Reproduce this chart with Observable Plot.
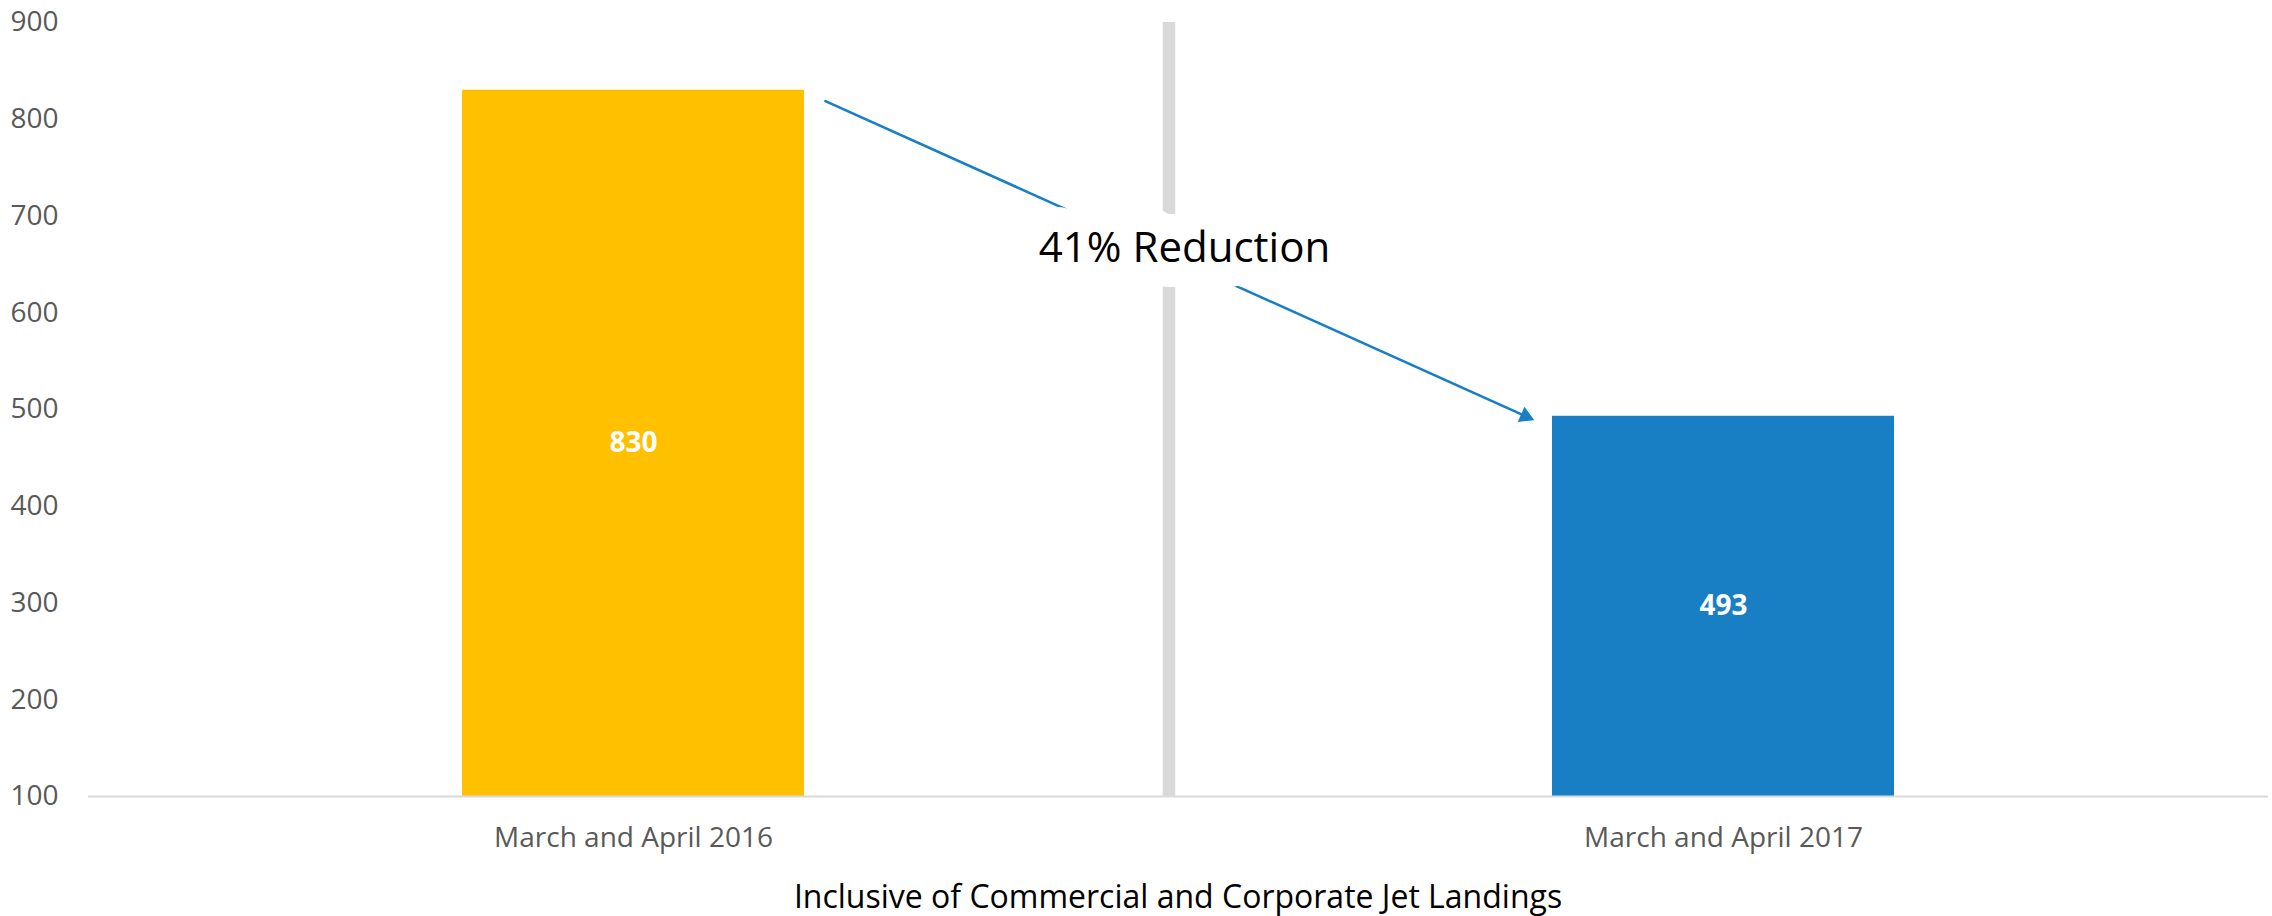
<!DOCTYPE html>
<html>
<head>
<meta charset="utf-8">
<script src="https://cdn.jsdelivr.net/npm/d3@7"></script>
<script src="https://cdn.jsdelivr.net/npm/@observablehq/plot@0.6"></script>
<style>
  body { margin: 0; background: #fff; font-family: "Open Sans", sans-serif; }
  #caption { margin-top: 16px; padding: 0 4px 0 88px; text-align: center; font-size: 32px; line-height: 40px; color: #000; }
</style>
</head>
<body>
<div id="chart"></div>
<div id="caption">Inclusive of Commercial and Corporate Jet Landings</div>
<script>
// ---- data ----
const categories = ["March and April 2016", "March and April 2017"];
const landings = [830, 493];
const barColors = ["#FFC000", "#187FC4"];
const yTicks = [100, 200, 300, 400, 500, 600, 700, 800, 900];
const annotationLabel = "41% Reduction";
const annotationLevel = [666];          // y level (data units) of the label
const arrowLevels = [908, 401];          // y levels (data units) the arrow line passes at the bar centres

const bars = categories.map((c, i) => ({category: c, value: landings[i]}));
const arrowData = [{from: categories[0], to: categories[1], y1: arrowLevels[0], y2: arrowLevels[1]}];
const arrowHead = [{at: categories[1], level: landings[1]}];

const arrowColor = "#187FC4";

const chart = Plot.plot({
  width: 2272,
  height: 860,
  marginLeft: 88,
  marginRight: 4,
  marginTop: 22,
  marginBottom: 64,
  style: {fontFamily: "Open Sans", background: "white"},
  x: {type: "band", domain: categories, paddingInner: 0.686, paddingOuter: 0.343, axis: null},
  y: {domain: [yTicks[0], yTicks[yTicks.length - 1]], axis: null},
  color: {domain: categories, range: barColors},
  marks: [
    Plot.barY(bars, {x: "category", y1: yTicks[0], y2: "value", fill: "category"}),
    Plot.ruleY([yTicks[0]], {stroke: "#D9D9D9", strokeWidth: 2}),
    Plot.ruleX([categories[0]], {dx: 535.5, y1: yTicks[yTicks.length - 1], y2: yTicks[0], stroke: "#D9D9D9", strokeWidth: 12.5}),
    Plot.arrow(arrowData, {
      x1: "from", y1: "y1", x2: "to", y2: "y2",
      stroke: arrowColor, strokeWidth: 2.6,
      insetStart: 210.5, insetEnd: 212,
      headLength: 0
    }),
    Plot.dot(arrowHead, {
      x: "at", y: "level", dx: -198,
      symbol: "triangle", r: 6.2, rotate: 114.2,
      fill: arrowColor, stroke: null
    }),
    Plot.text([annotationLabel], {
      y: annotationLevel, text: d => d, dx: 6,
      fontSize: 42, fill: "black",
      stroke: "white", strokeWidth: 50, strokeLinejoin: "round", paintOrder: "stroke"
    }),
    Plot.text(bars, {
      x: "category", y: d => (yTicks[0] + d.value) / 2, text: d => String(d.value),
      fill: "white", fontWeight: "bold", fontSize: 28
    }),
    Plot.axisY({ticks: yTicks, tickSize: 0, tickPadding: 30, fontSize: 28, fill: "#595959", label: null}),
    Plot.axisX({tickSize: 0, tickPadding: 31, fontSize: 28, fill: "#595959", label: null})
  ]
});
document.getElementById("chart").append(chart);
</script>
</body>
</html>
